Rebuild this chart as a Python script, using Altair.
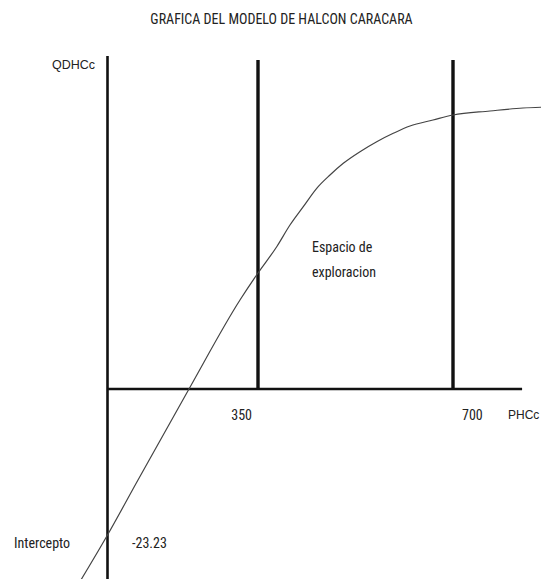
import altair as alt
import pandas as pd

# Curve (diagram units: PHCc on x, QDHCc on y)
curve_x = [-71.6, 0, 70.9, 189.5, 308.1, 350, 383.6, 407.4, 431.3, 455.4, 479.2, 503.1, 533.1,
           563.1, 592.8, 622.8, 664.1, 700, 766.4, 825.6, 872.3]
curve_y = [-31.5, -23.23, -14.48, 0, 14.16, 18.46, 22.64, 26.09, 29.01, 31.93, 34.05, 35.91, 37.76,
           39.35, 40.68, 41.85, 42.80, 43.60, 44.23, 44.71, 44.87]

# Axis lines
vline_x = [0, 350, 700]
vline_y1 = [-31.5, 0, 0]
vline_y2 = [53.0, 52.35, 52.35]
vline_w = [2.6, 3.4, 3.4]
xaxis_x = [0]
xaxis_x2 = [824]
xaxis_y = [0]

# Annotations
narrow_labels = ["350", "700", "Espacio de", "exploracion", "Intercepto", "-23.23"]
narrow_x = [336.0, 716.2, 446.9, 446.9, -217.4, 57.0]
narrow_y = [-4.30, -4.30, 22.43, 18.46, -24.66, -24.66]
narrow_align = ["right", "left", "left", "left", "left", "left"]

sans_labels = ["QDHCc", "PHCc"]
sans_x = [-29.1, 798.7]
sans_y = [51.55, -4.14]
sans_align = ["right", "left"]

title_text = "GRAFICA DEL MODELO DE HALCON CARACARA"

NARROW = "Roboto Condensed, Liberation Sans Narrow, DejaVu Sans Condensed, sans-serif"
SANS = "Liberation Sans, Arial, sans-serif"

xs = alt.Scale(domain=[0, 350, 700], range=[99.5, 250, 445], nice=False, zero=False)
ys = alt.Scale(domain=[-30.23, 55.53], nice=False, zero=False)

curve_df = pd.DataFrame({"x": curve_x, "y": curve_y})
vline_df = pd.DataFrame({"x": vline_x, "y": vline_y1, "y2": vline_y2, "w": vline_w})
xaxis_df = pd.DataFrame({"x": xaxis_x, "x2": xaxis_x2, "y": xaxis_y})
narrow_df = pd.DataFrame({"t": narrow_labels, "x": narrow_x, "y": narrow_y, "a": narrow_align})
sans_df = pd.DataFrame({"t": sans_labels, "x": sans_x, "y": sans_y, "a": sans_align})

X = lambda f="x": alt.X(f"{f}:Q", scale=xs, axis=None)
Y = lambda f="y": alt.Y(f"{f}:Q", scale=ys, axis=None)

vlines = alt.Chart(vline_df).mark_rule(color="#111").encode(
    x=X(), y=Y(), y2="y2:Q",
    strokeWidth=alt.StrokeWidth("w:Q", scale=None, legend=None),
)
xaxis = alt.Chart(xaxis_df).mark_rule(color="#111", strokeWidth=2.6).encode(
    x=X(), x2="x2:Q", y=Y()
)
curve = alt.Chart(curve_df).mark_line(
    color="#444", strokeWidth=1.2, interpolate="monotone", clip=True
).encode(x=X(), y=Y(), order=alt.Order("x:Q"))

def texts(df, font, size, align):
    return alt.Chart(df).mark_text(
        font=font, fontSize=size, align=align, baseline="middle", color="#222"
    ).encode(x=X(), y=Y(), text="t:N")

narrow_left = texts(narrow_df[narrow_df.a == "left"], NARROW, 14, "left")
narrow_right = texts(narrow_df[narrow_df.a == "right"], NARROW, 14, "right")
sans_left = texts(sans_df[sans_df.a == "left"], SANS, 12, "left")
sans_right = texts(sans_df[sans_df.a == "right"], SANS, 12.5, "right")

chart = alt.layer(
    vlines, xaxis, curve, narrow_left, narrow_right, sans_left, sans_right
).properties(
    width=533,
    height=539,
    title=alt.TitleParams(
        title_text, font=NARROW, fontSize=14, fontWeight="normal", color="#222",
        anchor="middle", baseline="middle", offset=6, dx=7,
    ),
    autosize=alt.AutoSizeParams(type="none"),
    padding={"top": 32, "left": 0, "right": 0, "bottom": 0},
    background="white",
).configure_view(stroke=None)

chart.save("out.html", embed_options={"renderer": "svg", "actions": False})
